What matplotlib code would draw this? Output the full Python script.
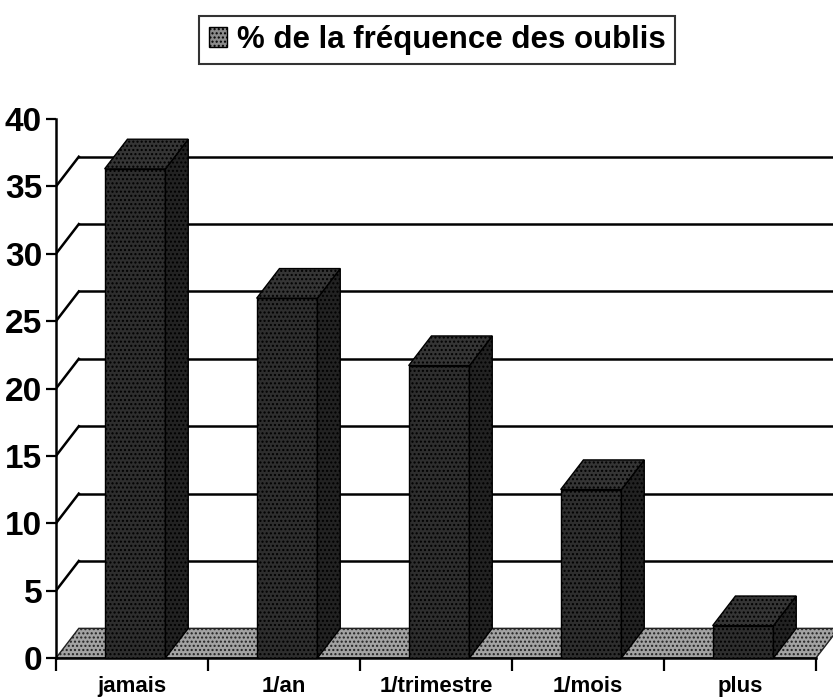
import matplotlib
matplotlib.use("Agg")
import matplotlib.pyplot as plt
from matplotlib.patches import Polygon, Rectangle, Patch

categories = ["jamais", "1/an", "1/trimestre", "1/mois", "plus"]
values = [36.3, 26.7, 21.7, 12.5, 2.4]
yticks = [0, 5, 10, 15, 20, 25, 30, 35, 40]
title = "% de la fréquence des oublis"

FONT = ["Liberation Sans Narrow", "Liberation Sans", "DejaVu Sans"]
plt.rcParams["font.family"] = FONT
plt.rcParams["hatch.color"] = "#666666"

W, H = 833, 698
fig = plt.figure(figsize=(W / 100, H / 100), dpi=100)

# pixel mapping for axes placement
x0_px, cat_px = 56, 152.0
y0_px, unit_px = 658, 13.475
top_px = 80
xmax = (W - x0_px) / cat_px
ytop = (y0_px - top_px) / unit_px
ybot = (y0_px - H) / unit_px
ax = fig.add_axes([x0_px / W, 0, 1 - x0_px / W, 1 - top_px / H])
ax.set_xlim(0, xmax)
ax.set_ylim(ybot, ytop)

dx, dy = 0.15, 2.2  # depth offset (categories, value units)
n = len(categories)

# floor
floor = Polygon([(0, 0), (n, 0), (n + dx, dy), (dx, dy)], closed=True,
                facecolor="#a3a3a3", edgecolor="#222222", lw=1.0, zorder=1,
                hatch="....")
ax.add_patch(floor)

# back wall gridlines + side diagonals
for v in yticks[1:-1]:
    ax.plot([0, dx], [v, v + dy], color="black", lw=1.8, zorder=2)
    ax.plot([dx, xmax], [v + dy, v + dy], color="black", lw=1.8, zorder=2)

# bars
left_off, width = 0.32, 0.40
for i, v in enumerate(values):
    xl = i + left_off
    xr = xl + width
    front = Rectangle((xl, 0), width, v, facecolor="#2e2e2e",
                      edgecolor="black", lw=1.0, zorder=4, hatch="....")
    side = Polygon([(xr, 0), (xr + dx, dy), (xr + dx, v + dy), (xr, v)],
                   closed=True, facecolor="#222222", edgecolor="black",
                   lw=1.0, zorder=4, hatch="....")
    top = Polygon([(xl, v), (xr, v), (xr + dx, v + dy), (xl + dx, v + dy)],
                  closed=True, facecolor="#353535", edgecolor="black",
                  lw=1.0, zorder=4, hatch="....")
    for p in (front, side, top):
        ax.add_patch(p)

# axes styling
for s in ("top", "right"):
    ax.spines[s].set_visible(False)
ax.spines["left"].set_bounds(0, 40)
ax.spines["left"].set_linewidth(1.8)
ax.spines["bottom"].set_position(("data", 0))
ax.spines["bottom"].set_bounds(0, n)
ax.spines["bottom"].set_linewidth(1.8)
ax.set_yticks(yticks)
ax.set_yticklabels([str(t) for t in yticks], fontsize=24, fontweight="bold")
ax.tick_params(axis="y", length=7, width=1.6, pad=3)
ax.set_xticks(range(n + 1))
ax.set_xticklabels([""] * (n + 1))
ax.set_xticks([i + 0.5 for i in range(n)], minor=True)
ax.set_xticklabels(categories, minor=True, fontsize=16, fontweight="bold")
ax.tick_params(axis="x", which="major", length=9, width=1.6, direction="out")
ax.tick_params(axis="x", which="minor", length=0, pad=13)
ax.patch.set_visible(False)

leg = fig.legend(handles=[Patch(facecolor="#8c8c8c", edgecolor="black",
                                hatch="....", label=title)],
                 loc="center", bbox_to_anchor=(437 / W, 1 - 40 / H),
                 frameon=True, fancybox=False, edgecolor="black",
                 handlelength=0.6, handleheight=0.6, handletextpad=0.3,
                 borderpad=0.3, prop={"family": FONT[1:], "weight": "bold",
                                       "size": 22.5})
leg.get_frame().set_linewidth(1.5)

fig.savefig("out.png", dpi=100)
